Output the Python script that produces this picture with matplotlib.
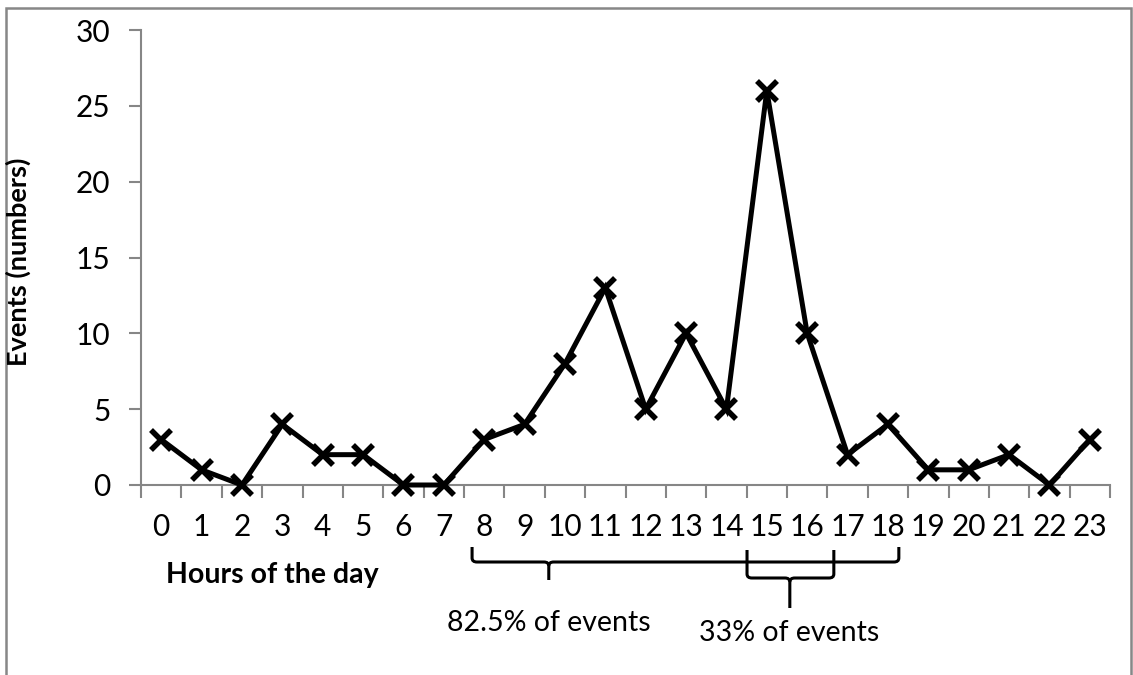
import matplotlib
matplotlib.use("Agg")
import matplotlib.pyplot as plt
from matplotlib.patches import Rectangle
from matplotlib.path import Path
from matplotlib.patches import PathPatch
import matplotlib.transforms as mtransforms
import numpy as np

hours = list(range(24))
events = [3, 1, 0, 4, 2, 2, 0, 0, 3, 4, 8, 13, 5, 10, 5, 26, 10, 2, 4, 1, 1, 2, 0, 3]
y_ticks = [0, 5, 10, 15, 20, 25, 30]
x_label = "Hours of the day"
y_label = "Events (numbers)"
brace_labels = ["82.5% of events", "33% of events"]

W, H = 1133, 675
DPI = 100
plt.rcParams['font.family'] = ['Lato', 'DejaVu Sans']
fig = plt.figure(figsize=(W / DPI, H / DPI), dpi=DPI)

def px(x, y):
    return x / W, 1 - y / H

ax = fig.add_axes([141 / W, 1 - 485 / H, (1110 - 141) / W, (485 - 30) / H])
gray = '#868686'
ax.plot(hours, events, color='black', lw=3.6, marker='x', markersize=15,
        markeredgewidth=4.0, solid_joinstyle='miter', zorder=5, clip_on=False)
ax.set_xlim(-0.5, 23.5)
ax.set_ylim(0, 30)
ax.set_yticks(y_ticks)
ax.set_xticks(hours)
ax.set_xticks(np.arange(-0.5, 24, 1), minor=True)
ax.tick_params(axis='x', which='major', length=0, pad=20, labelsize=21.5)
ax.tick_params(axis='x', which='minor', length=9, width=1.5, color=gray, direction='out')
ax.tick_params(axis='y', length=9, width=1.5, color=gray, pad=13, labelsize=21.5)
for s in ['top', 'right']:
    ax.spines[s].set_visible(False)
for s in ['left', 'bottom']:
    ax.spines[s].set_color(gray)
    ax.spines[s].set_linewidth(1.5)

fig.text(*px(18, 262), y_label, rotation=90, ha='center', va='center',
         fontsize=19.5, fontweight='bold')
fig.text(*px(272, 575), x_label, ha='center', va='center',
         fontsize=20.5, fontweight='bold')

# border
fig.patches.append(Rectangle(px(6, 700), (1131 - 6) / W, (700 - 8) / H,
                             transform=fig.transFigure, fill=False,
                             edgecolor='#878787', lw=1.8, clip_on=False))

trans = mtransforms.blended_transform_factory(ax.transData, fig.transFigure)

def brace(x0, x1, xm, y_top, y_mid, y_stem, r=0.12):
    yt = 1 - y_top / H
    ym = 1 - y_mid / H
    ys = 1 - y_stem / H
    dy = 4 / H
    verts = [(x0, yt), (x0, ym + dy), (x0, ym), (x0 + r, ym),
             (xm - r, ym), (xm, ym), (xm, ym - dy), (xm, ys)]
    codes = [Path.MOVETO, Path.LINETO, Path.CURVE3, Path.CURVE3,
             Path.LINETO, Path.CURVE3, Path.CURVE3, Path.LINETO]
    verts2 = [(xm, ym - dy), (xm, ym), (xm + r, ym), (x1 - r, ym),
              (x1, ym), (x1, ym + dy), (x1, yt)]
    codes2 = [Path.MOVETO, Path.CURVE3, Path.CURVE3, Path.LINETO,
              Path.CURVE3, Path.CURVE3, Path.LINETO]
    for v, c in [(verts, codes), (verts2, codes2)]:
        fig.patches.append(PathPatch(Path(v, c), transform=trans, fill=False,
                                     lw=2.2, edgecolor='black', clip_on=False))

brace(7.70, 18.27, 9.60, 547, 562, 580)
brace(14.51, 16.66, 15.57, 550, 578, 608)

ax.text(9.6, 1 - 623 / H, brace_labels[0], transform=trans, ha='center',
        va='center', fontsize=20.5)
ax.text(15.55, 1 - 633 / H, brace_labels[1], transform=trans, ha='center',
        va='center', fontsize=20.5)

fig.savefig('out.png', dpi=DPI)
